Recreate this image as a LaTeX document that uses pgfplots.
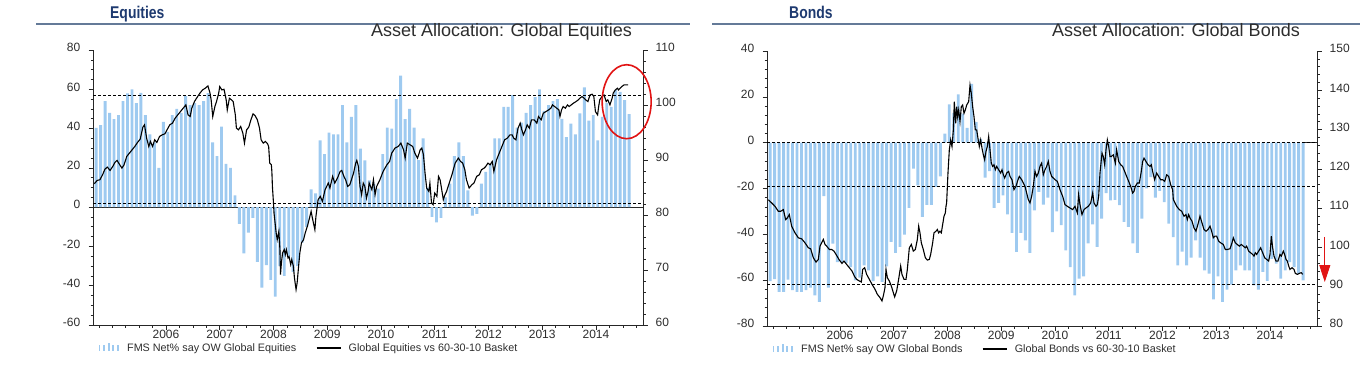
\documentclass[border=0pt]{standalone}
\usepackage{fontspec}
\setmainfont{Liberation Sans}
\usepackage{graphicx}
\usepackage{pgfplots}
\usepackage{pgfplotstable}
\pgfplotsset{compat=1.18}
\usetikzlibrary{arrows.meta}

\definecolor{barblue}{RGB}{158,202,240}
\definecolor{headblue}{RGB}{30,58,112}
\definecolor{rulegrey}{RGB}{100,122,152}
\definecolor{txtgrey}{RGB}{45,45,45}
\definecolor{annred}{RGB}{225,20,20}

% ---------------- data ----------------
\pgfplotstableread{
i v
0 40.3
1 41.7
2 54
3 48
4 44.8
5 46.8
6 54
7 57.9
8 60
9 53
10 58.2
11 46.8
12 37
13 33
14 20
15 43.4
16 38.3
17 46.8
18 50
19 48
20 56.5
21 52
22 53
23 52
24 54
25 58
26 33
27 26
28 41
29 22
30 20
31 6
32 -8.5
33 -23.5
34 -13
35 -5.5
36 -27.8
37 -41
38 -29.5
39 -37
40 -45.5
41 -30
42 -35
43 -25
44 -33
45 -30
46 -18
47 -10
48 9
49 7
50 34
51 27
52 38
53 37
54 37
55 52
56 33
57 46
58 52
59 29.8
60 23.8
61 13.6
62 12
63 9.4
64 27
65 40.5
66 40
67 55
68 67
69 44.8
70 50
71 40.5
72 24
73 35
74 10
75 -5
76 -7.7
77 -5.4
78 5
79 12
80 26
81 33
82 26
83 8.5
84 -4.3
85 -3.4
86 12
87 18
88 22
89 35
90 35
91 51
92 51
93 57
94 40.5
95 43
96 48
97 52
98 56
99 60
100 49
101 52
102 54
103 55
104 45
105 35.7
106 42.5
107 37
108 47.7
109 61
110 44
111 46.8
112 34
113 46
114 53
115 51
116 59.6
117 58.7
118 54.5
119 47.3
}\eqbars

\pgfplotstableread{
x y
2004.667 85.25
2004.72 85.85
2004.77 85.97
2004.82 86.88
2004.865 87.91
2004.91 88.27
2004.96 87.66
2005.01 88.39
2005.05 89.12
2005.09 89.48
2005.14 88.69
2005.18 88.09
2005.22 88.69
2005.27 90.21
2005.32 90.81
2005.37 91.42
2005.42 92.02
2005.47 92.75
2005.52 93.35
2005.57 95.53
2005.60 95.95
2005.64 93.53
2005.68 92.02
2005.71 92.93
2005.75 92.02
2005.79 93.23
2005.83 92.75
2005.88 93.84
2005.93 94.14
2005.98 94.32
2006.02 95.05
2006.07 95.95
2006.12 96.26
2006.17 97.16
2006.22 97.77
2006.27 98.37
2006.32 98.98
2006.37 99.58
2006.41 97.77
2006.45 97.47
2006.48 98.98
2006.53 100.19
2006.58 100.97
2006.63 101.70
2006.68 102.30
2006.73 102.61
2006.78 103.03
2006.82 101.70
2006.84 100.49
2006.87 97.47
2006.91 99.28
2006.94 100.19
2006.98 101.70
2007.00 102.91
2007.04 102.30
2007.08 102.42
2007.12 100.49
2007.14 98.67
2007.18 100.79
2007.22 100.49
2007.25 100.19
2007.29 97.77
2007.31 95.35
2007.35 95.05
2007.39 95.65
2007.43 94.44
2007.46 92.63
2007.50 95.05
2007.54 95.53
2007.58 96.86
2007.62 97.95
2007.66 97.59
2007.70 96.86
2007.74 95.35
2007.77 93.23
2007.81 92.63
2007.85 92.93
2007.89 92.50
2007.91 92.02
2007.93 89.00
2007.96 88.69
2007.97 87.48
2007.98 84.76
2008.00 81.74
2008.01 79.92
2008.05 76.29
2008.07 75.08
2008.10 76.59
2008.12 73.27
2008.13 68.73
2008.15 71.15
2008.17 72.66
2008.20 73.27
2008.22 72.36
2008.24 73.27
2008.27 71.76
2008.29 72.00
2008.32 70.54
2008.34 71.45
2008.37 70.24
2008.39 68.12
2008.42 66.01
2008.44 67.22
2008.47 70.54
2008.49 72.66
2008.52 74.48
2008.56 75.08
2008.59 76.29
2008.63 77.50
2008.67 79.01
2008.70 80.22
2008.73 78.71
2008.77 76.90
2008.79 79.32
2008.83 82.34
2008.87 82.95
2008.91 82.04
2008.96 84.16
2009.02 85.37
2009.05 84.46
2009.10 86.58
2009.14 85.37
2009.19 86.27
2009.24 87.48
2009.27 87.66
2009.31 86.58
2009.342 85.97
2009.38 84.76
2009.42 85.06
2009.49 87.18
2009.53 89.00
2009.55 89.48
2009.58 88.39
2009.61 84.76
2009.64 83.25
2009.67 85.37
2009.70 84.76
2009.73 82.64
2009.76 83.85
2009.78 85.37
2009.83 84.16
2009.86 85.97
2009.89 83.25
2009.92 84.76
2009.98 85.97
2010.04 87.48
2010.11 88.69
2010.16 89.30
2010.20 90.81
2010.26 91.72
2010.32 92.02
2010.37 92.63
2010.42 91.42
2010.45 89.90
2010.49 92.63
2010.54 92.33
2010.59 92.02
2010.63 90.81
2010.68 89.90
2010.73 91.42
2010.76 91.72
2010.79 90.51
2010.82 87.18
2010.85 84.46
2010.89 83.85
2010.91 85.37
2010.94 81.74
2010.97 81.43
2011.00 83.55
2011.04 82.95
2011.07 86.58
2011.10 85.97
2011.13 84.16
2011.16 82.34
2011.19 83.25
2011.22 83.85
2011.25 84.76
2011.32 86.88
2011.38 89.00
2011.44 89.90
2011.48 89.30
2011.52 89.00
2011.56 87.79
2011.59 85.97
2011.64 84.46
2011.69 85.06
2011.73 85.37
2011.78 86.58
2011.83 86.88
2011.87 87.79
2011.92 88.09
2011.95 88.39
2011.99 89.00
2012.03 88.69
2012.07 89.30
2012.10 87.48
2012.15 89.60
2012.20 90.81
2012.25 92.02
2012.30 93.23
2012.35 93.53
2012.40 94.14
2012.44 94.14
2012.47 93.53
2012.51 93.23
2012.55 95.35
2012.59 96.26
2012.62 95.05
2012.65 94.14
2012.69 95.05
2012.72 95.95
2012.76 95.35
2012.80 96.86
2012.85 96.86
2012.90 96.26
2012.93 97.47
2012.98 96.86
2013.02 98.07
2013.07 98.37
2013.12 98.68
2013.16 98.98
2013.19 99.58
2013.23 99.28
2013.27 98.98
2013.31 98.68
2013.33 97.47
2013.36 98.68
2013.39 99.28
2013.43 98.98
2013.47 99.58
2013.50 99.28
2013.54 99.58
2013.58 99.89
2013.63 100.19
2013.67 100.49
2013.70 100.79
2013.74 101.09
2013.78 100.79
2013.81 100.49
2013.85 100.19
2013.89 101.40
2013.93 101.52
2013.96 101.09
2013.99 98.37
2014.03 97.77
2014.05 99.28
2014.07 100.49
2014.11 101.09
2014.15 101.40
2014.19 100.19
2014.22 100.49
2014.26 99.58
2014.30 100.79
2014.32 101.70
2014.36 102.30
2014.40 102.61
2014.42 102.30
2014.45 102.61
2014.48 102.91
2014.52 103.21
2014.56 103.21
2014.60 103.21
}\eqline

\pgfplotstableread{
i v
0 -60.4
1 -59.5
2 -65.1
3 -65.1
4 -59.8
5 -64.4
6 -65.1
7 -65.1
8 -64.4
9 -63.3
10 -66.6
11 -69.5
12 -23.3
13 -63.3
14 -44.1
15 -52.1
16 -52.1
17 -52.5
18 -54.3
19 -60.1
20 -58.9
21 -53.5
22 -55.7
23 -60.4
24 -58.3
25 -60.8
26 -54.0
27 -43.3
28 -48.1
29 -45.5
30 -40.1
31 -28.5
32 -11.3
33 -18.6
34 -32.4
35 -27.1
36 -27.1
37 -19.3
38 -14.7
39 3.9
40 16.7
41 13
42 21.1
43 12.7
44 6.5
45 25.7
46 9
47 1.7
48 -15.3
49 -12.4
50 -28.5
51 -26.3
52 -23
53 -31.3
54 -39.4
55 -47.7
56 -39.4
57 -42.6
58 -48.1
59 -29.5
60 -21.5
61 -27
62 -24
63 -39
64 -30
65 -36
66 -47
67 -54.3
68 -66.6
69 -59.3
70 -58.3
71 -44
72 -35.7
73 -45.5
74 -33.2
75 -22
76 -25.2
77 -25
78 -27.3
79 -34.6
80 -36.8
81 -44
82 -48.1
83 -33.2
84 -20
85 -15
86 -24
87 -21
88 -26
89 -35.3
90 -41.2
91 -53.5
92 -47.5
93 -53.5
94 -50.2
95 -42.6
96 -50.2
97 -55.7
98 -57.2
99 -68.4
100 -58.3
101 -69.5
102 -64.1
103 -61.9
104 -55.7
105 -53.5
106 -55.7
107 -55.7
108 -62.3
109 -64.1
110 -56.4
111 -60.3
112 -50.7
113 -52.8
114 -59.3
115 -55.7
116 -52.1
117 -54.3
118 -57.2
119 -60.1
}\bdbars

\pgfplotstableread{
x y
2004.667 111.51
2004.729 110.67
2004.791 109.82
2004.853 108.55
2004.896 108.55
2004.946 108.98
2004.989 106.44
2005.020 106.86
2005.057 107.71
2005.101 104.75
2005.163 103.06
2005.225 101.79
2005.287 101.54
2005.349 100.52
2005.411 99.26
2005.454 99.00
2005.504 96.72
2005.554 95.62
2005.597 96.30
2005.628 99.68
2005.659 100.52
2005.690 101.37
2005.721 100.10
2005.752 99.68
2005.802 98.83
2005.845 98.83
2005.888 98.41
2005.938 97.31
2005.988 96.13
2006.037 95.28
2006.074 95.88
2006.124 95.03
2006.174 94.18
2006.223 93.34
2006.273 91.90
2006.310 91.23
2006.360 90.80
2006.397 90.55
2006.422 93.76
2006.459 94.18
2006.496 92.49
2006.546 91.23
2006.595 89.96
2006.645 88.86
2006.695 87.42
2006.744 86.58
2006.781 85.73
2006.806 87.00
2006.837 89.11
2006.856 93.76
2006.881 91.65
2006.918 90.80
2006.955 89.54
2006.992 87.84
2007.017 86.75
2007.054 88.27
2007.091 91.23
2007.129 94.61
2007.153 92.49
2007.191 91.23
2007.228 91.23
2007.253 93.76
2007.290 99.26
2007.327 100.10
2007.364 98.41
2007.402 98.83
2007.439 101.37
2007.464 104.75
2007.488 103.06
2007.513 100.52
2007.550 98.83
2007.588 96.72
2007.625 96.13
2007.662 96.30
2007.687 97.57
2007.724 100.52
2007.749 103.06
2007.786 103.48
2007.811 103.91
2007.836 103.06
2007.860 103.48
2007.885 103.06
2007.910 105.17
2007.935 107.29
2007.960 108.13
2007.972 109.82
2007.984 110.67
2008.009 118.28
2008.034 124.19
2008.059 126.73
2008.084 125.04
2008.109 129.26
2008.127 136.45
2008.152 130.96
2008.171 135.18
2008.189 132.65
2008.208 134.34
2008.233 131.38
2008.257 135.18
2008.282 135.60
2008.307 133.49
2008.332 134.34
2008.357 135.60
2008.394 136.45
2008.419 140.68
2008.443 138.56
2008.468 135.18
2008.493 132.65
2008.518 129.26
2008.543 129.26
2008.567 127.15
2008.592 125.04
2008.617 126.73
2008.642 124.62
2008.667 122.93
2008.691 121.66
2008.716 123.77
2008.741 125.04
2008.766 127.57
2008.791 124.19
2008.815 120.81
2008.840 119.97
2008.865 120.39
2008.890 119.12
2008.915 119.97
2008.952 119.12
2008.989 118.28
2009.014 119.12
2009.039 117.85
2009.064 117.01
2009.101 118.28
2009.138 118.70
2009.163 117.43
2009.200 116.59
2009.237 114.05
2009.274 114.89
2009.312 116.59
2009.336 117.43
2009.380 116.59
2009.411 115.74
2009.442 114.89
2009.473 113.20
2009.504 111.51
2009.535 110.67
2009.566 112.36
2009.597 114.89
2009.628 118.70
2009.659 117.43
2009.690 118.28
2009.721 119.97
2009.752 120.81
2009.783 117.85
2009.814 119.12
2009.845 119.97
2009.876 121.23
2009.907 118.70
2009.938 117.43
2009.969 117.01
2010.000 116.59
2010.044 116.16
2010.093 114.05
2010.143 112.36
2010.186 110.25
2010.230 109.82
2010.279 109.40
2010.329 108.98
2010.372 109.82
2010.416 108.13
2010.440 112.78
2010.465 110.25
2010.502 107.71
2010.540 108.98
2010.577 109.40
2010.620 109.82
2010.664 110.67
2010.701 113.20
2010.726 110.67
2010.763 109.82
2010.788 110.25
2010.813 112.36
2010.837 118.28
2010.875 123.35
2010.899 122.50
2010.924 120.39
2010.949 124.19
2010.974 126.73
2010.999 125.04
2011.023 122.50
2011.048 122.50
2011.085 122.93
2011.123 120.81
2011.147 124.19
2011.185 121.23
2011.222 120.39
2011.259 119.97
2011.296 118.70
2011.333 117.43
2011.371 116.16
2011.408 114.89
2011.445 113.20
2011.470 113.63
2011.495 114.89
2011.532 115.74
2011.569 115.74
2011.606 118.70
2011.631 121.23
2011.656 122.08
2011.693 121.23
2011.730 120.39
2011.768 119.97
2011.792 120.39
2011.817 118.70
2011.854 116.59
2011.892 118.28
2011.929 117.43
2011.966 116.59
2012.003 116.59
2012.041 116.16
2012.078 117.85
2012.115 117.43
2012.152 115.32
2012.189 114.05
2012.202 111.51
2012.264 109.82
2012.313 108.98
2012.357 108.55
2012.400 107.29
2012.437 107.71
2012.462 106.44
2012.487 107.71
2012.512 106.86
2012.549 106.02
2012.586 104.33
2012.623 103.48
2012.667 105.60
2012.698 107.29
2012.735 105.60
2012.772 103.91
2012.810 103.48
2012.847 103.91
2012.884 104.75
2012.915 103.48
2012.946 101.79
2012.977 102.21
2013.008 102.21
2013.045 100.95
2013.082 100.52
2013.132 100.10
2013.169 98.83
2013.206 98.83
2013.256 99.00
2013.293 100.52
2013.318 101.79
2013.355 100.52
2013.392 100.10
2013.430 99.68
2013.467 100.10
2013.504 99.68
2013.541 99.26
2013.566 99.68
2013.603 98.41
2013.640 97.99
2013.678 97.57
2013.703 97.14
2013.727 97.99
2013.752 97.57
2013.789 98.41
2013.826 99.26
2013.864 97.99
2013.901 96.72
2013.938 96.30
2013.975 95.88
2014.000 97.57
2014.025 102.21
2014.050 99.26
2014.075 97.14
2014.112 95.88
2014.149 95.88
2014.186 97.57
2014.211 97.14
2014.248 98.41
2014.273 97.57
2014.298 96.30
2014.323 95.88
2014.348 94.61
2014.372 93.76
2014.410 94.18
2014.447 93.76
2014.472 92.75
2014.509 92.49
2014.546 92.75
2014.583 92.92
2014.608 92.49
}\bdline

% ---------------- styles ----------------
\pgfplotsset{
  panelbase/.style={
    at={(#1)}, anchor=south west,
    scale only axis, width=550pt, height=275pt,
    xmin=2004.642, xmax=2014.875,
    tick align=outside,
    major tick length=4.5pt, minor tick length=2.5pt,
    tick style={black!85, line width=0.6pt},
    axis line style={black!85, line width=0.8pt},
    tick label style={font=\fontsize{12}{12}\selectfont, text=txtgrey, inner sep=0pt},
    /pgf/number format/assume math mode=true,
    yticklabel shift=8pt,
    yticklabel style={yshift=2.4pt},
  },
  leftside/.style={
    axis x line*=bottom, axis y line*=left,
    xtick={2006,2007,2008,2009,2010,2011,2012,2013,2014},
    xticklabels={2006,2007,2008,2009,2010,2011,2012,2013,2014},
    minor xtick={2004.75,2005,...,2014.75},
    legend columns=2,
    legend cell align=left,
    legend style={at={(0.009,-0.0836)}, anchor=west, draw=none, fill=none,
      inner sep=0pt, font=\fontsize{10.8}{11}\selectfont, text=txtgrey,
      /tikz/every odd column/.append style={column sep=5pt},
      /tikz/every even column/.append style={column sep=17pt}},
  },
  rightside/.style={
    axis x line=none, axis y line*=right, clip=false,
  },
  barlegend/.style={legend image code/.code={
    \path[draw=none, fill=none] (0pt,-4pt) rectangle (22pt,5pt);
    \path[draw=none, fill=barblue] (0.4pt,-3.5pt) rectangle (2.2pt,2.5pt);
    \path[draw=none, fill=barblue] (5pt,-3.5pt) rectangle (6.8pt,2.5pt);
    \path[draw=none, fill=barblue] (9.6pt,-3.5pt) rectangle (11.4pt,4.5pt);
    \path[draw=none, fill=barblue] (14.2pt,-3.5pt) rectangle (16pt,2.5pt);
    \path[draw=none, fill=barblue] (18.8pt,-3.5pt) rectangle (20.6pt,2.5pt);
  }},
  linelegend/.style={legend image code/.code={
    \draw[black, line width=2.2pt] (0pt,0pt) -- (24pt,0pt);
  }},
  refdash/.style={black, line width=0.8pt, dash pattern=on 3pt off 2pt, forget plot},
}

\begin{document}
\begin{tikzpicture}
\path[use as bounding box] (0,0) rectangle (1360pt,378pt);

% ---------- headings ----------
\node[anchor=base west, inner sep=0pt, text=headblue, font=\bfseries\fontsize{17}{17}\selectfont] at (110pt,359pt) {\scalebox{0.82}[1]{Equities}};
\draw[rulegrey, line width=1.2pt] (36pt,354pt) -- (690pt,354pt);
\node[anchor=base east, inner sep=0pt, text=txtgrey, font=\fontsize{18}{18}\selectfont] at (632pt,341pt) {Asset Allocation: Global Equities};

\node[anchor=base west, inner sep=0pt, text=headblue, font=\bfseries\fontsize{17}{17}\selectfont] at (789pt,359pt) {\scalebox{0.82}[1]{Bonds}};
\draw[rulegrey, line width=1.2pt] (712pt,354pt) -- (1360pt,354pt);
\node[anchor=base east, inner sep=0pt, text=txtgrey, font=\fontsize{18}{18}\selectfont] at (1300pt,341pt) {Asset Allocation: Global Bonds};

% ---------- Equities panel ----------
\begin{axis}[panelbase={93pt,53pt}, leftside,
  ymin=-60, ymax=80, ytick={-60,-40,...,80}, minor y tick num=3]
\addplot[black!85, line width=0.8pt, forget plot] coordinates {(2004.642,0) (2014.875,0)};
\addplot[ybar, bar width=2.9pt, fill=barblue, draw=none, barlegend]
  table[x expr=2004.70+\thisrow{i}/12, y=v] {\eqbars};
\addlegendentry{FMS Net\% say OW Global Equities}
\addlegendimage{linelegend}
\addlegendentry{Global Equities vs 60-30-10 Basket}
\addplot[refdash] coordinates {(2004.642,57) (2014.875,57)};
\addplot[refdash] coordinates {(2004.642,1.7) (2014.875,1.7)};
\end{axis}
\begin{axis}[panelbase={93pt,53pt}, rightside,
  ymin=60, ymax=110, ytick={60,70,...,110}, minor y tick num=4]
\addplot[black, line width=1.1pt] table[x=x, y expr=\thisrow{y}+0.44] {\eqline};
\draw[annred, line width=1.6pt] (axis cs:2014.571,100.6) ellipse [x radius=24.5pt, y radius=37pt];
\end{axis}

% ---------- Bonds panel ----------
\begin{axis}[panelbase={767pt,52pt}, leftside,
  ymin=-80, ymax=40, ytick={-80,-60,...,40}, minor y tick num=4]
\addplot[black!85, line width=0.8pt, forget plot] coordinates {(2014.66,0) (2014.875,0)};
\addplot[ybar, bar width=2.9pt, fill=barblue, draw=none, barlegend]
  table[x expr=2004.70+\thisrow{i}/12, y=v] {\bdbars};
\addlegendentry{FMS Net\% say OW Global Bonds}
\addlegendimage{linelegend}
\addlegendentry{Global Bonds vs 60-30-10 Basket}
\addplot[refdash] coordinates {(2004.642,0) (2014.875,0)};
\addplot[refdash] coordinates {(2004.642,-19.2) (2014.875,-19.2)};
\addplot[refdash] coordinates {(2004.642,-62) (2014.875,-62)};
\end{axis}
\begin{axis}[panelbase={767pt,52pt}, rightside,
  ymin=80, ymax=150, ytick={80,90,...,150}, minor y tick num=4]
\addplot[black, line width=1.1pt] table[x=x, y expr=\thisrow{y}+0.65] {\bdline};
\draw[annred, line width=1pt, -{Triangle[length=17pt,width=11pt]}] (axis cs:2015.02,102.66) -- (axis cs:2015.02,91.2);
\end{axis}
\end{tikzpicture}
\end{document}
